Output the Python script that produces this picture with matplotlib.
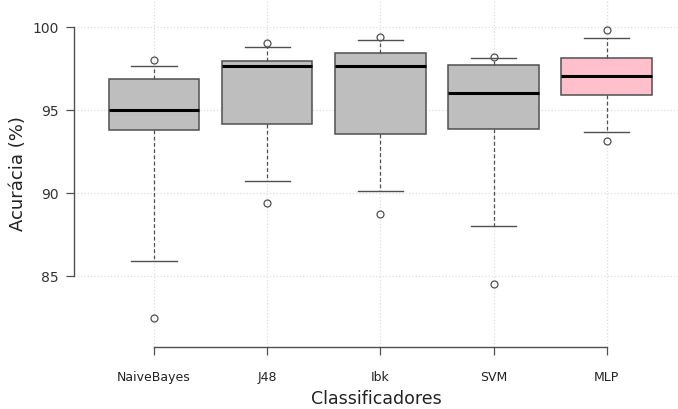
import numpy as np
import matplotlib
matplotlib.use('Agg')
import matplotlib.pyplot as plt

classificadores = ['NaiveBayes', 'J48', 'Ibk', 'SVM', 'MLP']
# resumo de cada caixa: q1, mediana, q3, bigode inferior, bigode superior
q1 = [93.82, 94.17, 93.55, 93.88, 95.92]
mediana = [95.0, 97.65, 97.65, 96.02, 97.06]
q3 = [96.86, 97.97, 98.47, 97.71, 98.17]
bigode_inf = [85.9, 90.71, 90.13, 88.02, 93.69]
bigode_sup = [97.68, 98.83, 99.23, 98.15, 99.35]
outliers = [[82.5, 98.05], [89.38, 99.03], [88.76, 99.40], [84.50, 98.21], [93.16, 99.84]]
cores = ['#bebebe', '#bebebe', '#bebebe', '#bebebe', '#ffc0cb']

stats = []
for i, nome in enumerate(classificadores):
    stats.append({'label': nome, 'q1': q1[i], 'med': mediana[i], 'q3': q3[i],
                  'whislo': bigode_inf[i], 'whishi': bigode_sup[i],
                  'fliers': outliers[i]})

fig = plt.figure(figsize=(6.78, 4.09), dpi=100)
ax = fig.add_axes([74/678, 1 - 346.7/409, 604/678, 346.7/409])

pos = np.arange(1, 6)
ax.set_xlim(0.293, 5.63)
ax.set_ylim(80.74, 101.65)

# grade pontilhada
for y in [85, 90, 95, 100]:
    ax.axhline(y, color='#dedede', ls=':', lw=0.9, zorder=0)
for x in pos:
    ax.axvline(x, color='#dedede', ls=':', lw=0.9, zorder=0)

bp = ax.bxp(stats, positions=pos, widths=0.8, patch_artist=True,
            showfliers=True, manage_ticks=False,
            boxprops=dict(edgecolor='#505050', linewidth=1.1),
            medianprops=dict(color='black', linewidth=2.2),
            whiskerprops=dict(color='#505050', linestyle=(0, (3, 2)), linewidth=0.9),
            capprops=dict(color='#505050', linewidth=1.0),
            flierprops=dict(marker='o', markerfacecolor='none',
                            markeredgecolor='#505050', markersize=5, markeredgewidth=0.9))
for caixa, c in zip(bp['boxes'], cores):
    caixa.set_facecolor(c)
for cap in bp['caps']:
    xd = cap.get_xdata()
    m = xd.mean()
    cap.set_xdata([m - 0.2, m + 0.2])

for s in ['top', 'right']:
    ax.spines[s].set_visible(False)
ax.spines['left'].set_bounds(85, 100)
ax.spines['bottom'].set_bounds(1, 5)
for s in ['left', 'bottom']:
    ax.spines[s].set_color('#505050')
    ax.spines[s].set_linewidth(1.0)

ax.set_yticks([85, 90, 95, 100])
ax.set_xticks(pos)
ax.set_xticklabels(classificadores)
ax.tick_params(axis='y', length=6, width=0.9, color='#505050', pad=5, labelsize=10, labelcolor='#333333')
ax.tick_params(axis='x', length=5.5, width=0.9, color='#505050', pad=12, labelsize=9, labelcolor='#222222')

ax.set_ylabel('Acurácia (%)', fontsize=13, color='#222222', labelpad=4)
ax.set_xlabel('Classificadores', fontsize=12.5, color='#222222', labelpad=4)

fig.savefig('out.png', dpi=100)
